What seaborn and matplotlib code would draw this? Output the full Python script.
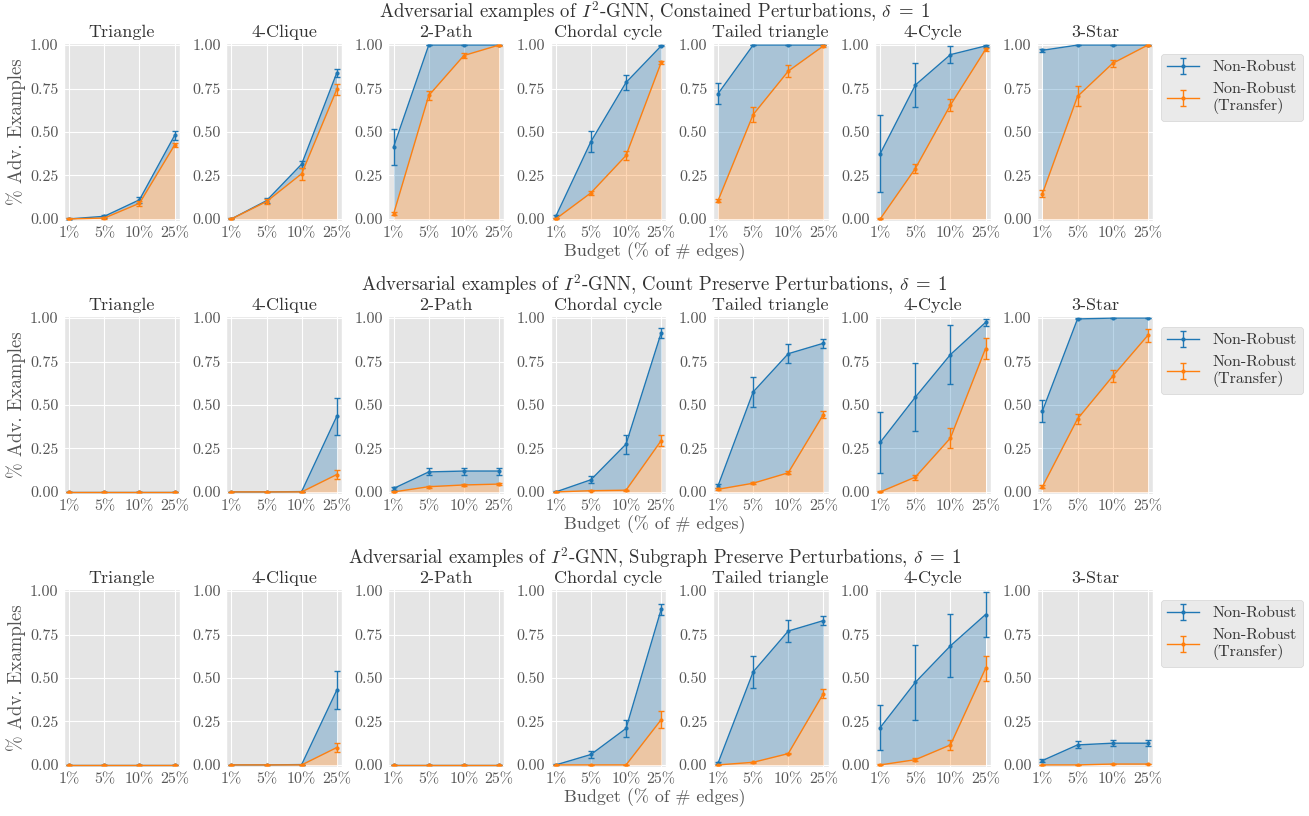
import numpy as np
import pandas as pd
import seaborn as sns
import matplotlib.pyplot as plt
from matplotlib.gridspec import GridSpec
from matplotlib.ticker import FormatStrFormatter

plt.style.use('ggplot')
plt.rcParams['font.family'] = 'serif'
plt.rcParams['font.serif'] = ['cmr10', 'DejaVu Serif']
plt.rcParams['mathtext.fontset'] = 'cm'
plt.rcParams['axes.formatter.use_mathtext'] = True

# datos
budgets = ['1%', '5%', '10%', '25%']
motifs = ['Triangle', '4-Clique', '2-Path', 'Chordal cycle', 'Tailed triangle', '4-Cycle', '3-Star']
row_titles = [
    r'Adversarial examples of $I^2$-GNN, Constained Perturbations, $\delta\;=\;1$',
    r'Adversarial examples of $I^2$-GNN, Count Preserve Perturbations, $\delta\;=\;1$',
    r'Adversarial examples of $I^2$-GNN, Subgraph Preserve Perturbations, $\delta\;=\;1$',
]

# Constained Perturbations
constr_nr = [[0.0, 0.015, 0.11, 0.48], [0.0, 0.105, 0.315, 0.84], [0.415, 1.0, 1.0, 1.0],
             [0.015, 0.445, 0.785, 0.995], [0.72, 1.0, 1.0, 1.0], [0.375, 0.77, 0.945, 0.995],
             [0.97, 1.0, 1.0, 1.0]]
constr_nr_err = [[0.004, 0.008, 0.018, 0.028], [0.003, 0.015, 0.02, 0.022], [0.105, 0.0, 0.0, 0.0],
                 [0.01, 0.06, 0.045, 0.003], [0.06, 0.0, 0.0, 0.0], [0.222, 0.127, 0.048, 0.005],
                 [0.01, 0.0, 0.0, 0.0]]
constr_tr = [[0.0, 0.005, 0.09, 0.425], [0.0, 0.1, 0.26, 0.745], [0.03, 0.71, 0.94, 1.0],
             [0.0, 0.15, 0.365, 0.9], [0.105, 0.6, 0.85, 0.995], [0.0, 0.29, 0.655, 0.975],
             [0.145, 0.705, 0.895, 1.0]]
constr_tr_err = [[0.003, 0.005, 0.015, 0.013], [0.003, 0.015, 0.035, 0.033], [0.01, 0.027, 0.015, 0.003],
                 [0.003, 0.013, 0.028, 0.01], [0.01, 0.043, 0.035, 0.005], [0.003, 0.025, 0.033, 0.01],
                 [0.02, 0.058, 0.02, 0.003]]

# Count Preserve Perturbations
count_nr = [[0.0, 0.0, 0.0, 0.0], [0.0, 0.0, 0.002, 0.435], [0.02, 0.115, 0.12, 0.12],
            [0.0, 0.07, 0.275, 0.915], [0.035, 0.575, 0.795, 0.855], [0.285, 0.545, 0.79, 0.975],
            [0.465, 0.995, 1.0, 1.0]]
count_nr_err = [[0.0, 0.0, 0.0, 0.0], [0.0, 0.0, 0.0, 0.108], [0.01, 0.02, 0.02, 0.02],
                [0.003, 0.02, 0.055, 0.03], [0.01, 0.088, 0.055, 0.025], [0.175, 0.197, 0.172, 0.02],
                [0.065, 0.003, 0.0, 0.0]]
count_tr = [[0.0, 0.0, 0.0, 0.0], [0.0, 0.0, 0.0, 0.1], [0.0, 0.03, 0.04, 0.045],
            [0.0, 0.007, 0.01, 0.295], [0.015, 0.05, 0.11, 0.445], [0.0, 0.085, 0.31, 0.825],
            [0.03, 0.42, 0.665, 0.9]]
count_tr_err = [[0.0, 0.0, 0.0, 0.0], [0.0, 0.0, 0.0, 0.025], [0.003, 0.005, 0.005, 0.005],
                [0.002, 0.003, 0.003, 0.03], [0.005, 0.005, 0.008, 0.02], [0.003, 0.015, 0.06, 0.058],
                [0.01, 0.03, 0.035, 0.038]]

# Subgraph Preserve Perturbations
subg_nr = [[0.0, 0.0, 0.0, 0.0], [0.0, 0.0, 0.002, 0.43], [0.0, 0.0, 0.0, 0.0],
           [0.0, 0.06, 0.21, 0.895], [0.01, 0.535, 0.77, 0.83], [0.215, 0.475, 0.685, 0.865],
           [0.025, 0.115, 0.125, 0.125]]
subg_nr_err = [[0.0, 0.0, 0.0, 0.0], [0.0, 0.0, 0.0, 0.108], [0.0, 0.0, 0.0, 0.0],
               [0.003, 0.02, 0.05, 0.03], [0.005, 0.09, 0.063, 0.025], [0.13, 0.215, 0.182, 0.128],
               [0.008, 0.02, 0.018, 0.018]]
subg_tr = [[0.0, 0.0, 0.0, 0.0], [0.0, 0.0, 0.0, 0.1], [0.0, 0.0, 0.0, 0.0],
           [0.0, 0.0, 0.0, 0.26], [0.0, 0.015, 0.065, 0.41], [0.0, 0.03, 0.115, 0.555],
           [0.0, 0.0, 0.005, 0.005]]
subg_tr_err = [[0.0, 0.0, 0.0, 0.0], [0.0, 0.0, 0.0, 0.025], [0.0, 0.0, 0.0, 0.0],
               [0.0, 0.0, 0.0, 0.05], [0.002, 0.003, 0.005, 0.025], [0.003, 0.008, 0.03, 0.07],
               [0.0, 0.0, 0.002, 0.002]]

rows = [(constr_nr, constr_nr_err, constr_tr, constr_tr_err),
        (count_nr, count_nr_err, count_tr, count_tr_err),
        (subg_nr, subg_nr_err, subg_tr, subg_tr_err)]

c_nr = '#1f77b4'
c_tr = '#ff7f0e'

W, H = 1309, 816
fig = plt.figure(figsize=(W / 100, H / 100), dpi=100)

# posiciones de las filas en pixeles (arriba, abajo)
row_px = [(43, 221), (316, 494), (589, 767)]

for r, (nr, nr_err, tr, tr_err) in enumerate(rows):
    top, bot = row_px[r]
    gs = GridSpec(1, 7, figure=fig, left=64 / W, right=1153 / W,
                  top=1 - top / H, bottom=1 - bot / H, wspace=0.40)
    for c, motif in enumerate(motifs):
        ax = fig.add_subplot(gs[0, c])
        df = pd.DataFrame({'budget': np.arange(len(budgets)),
                           'nr': nr[c], 'nr_err': nr_err[c],
                           'tr': tr[c], 'tr_err': tr_err[c]})
        # areas
        ax.fill_between(df['budget'], df['tr'], df['nr'], color=c_nr, alpha=0.3, lw=0)
        ax.fill_between(df['budget'], 0, df['tr'], color=c_tr, alpha=0.3, lw=0)
        # lineas
        sns.lineplot(data=df, x='budget', y='nr', ax=ax, color=c_nr, lw=1,
                     marker='o', markersize=3, markeredgewidth=0)
        eb_nr = ax.errorbar(df['budget'], df['nr'], yerr=df['nr_err'], fmt='none',
                            ecolor=c_nr, elinewidth=1, capsize=2)
        sns.lineplot(data=df, x='budget', y='tr', ax=ax, color=c_tr, lw=1,
                     marker='o', markersize=3, markeredgewidth=0)
        eb_tr = ax.errorbar(df['budget'], df['tr'], yerr=df['tr_err'], fmt='none',
                            ecolor=c_tr, elinewidth=1, capsize=2)
        lines = [l for l in ax.get_lines() if l.get_marker() == 'o']

        ax.set_xlim(-0.15, 3.15)
        ax.set_ylim(-0.012, 1.012)
        ax.set_xticks(range(len(budgets)))
        ax.set_xticklabels(budgets)
        ax.set_yticks([0, 0.25, 0.5, 0.75, 1.0])
        ax.yaxis.set_major_formatter(FormatStrFormatter('%.2f'))
        ax.tick_params(labelsize=11.5, length=0, pad=4)
        ax.set_xlabel('')
        ax.set_ylabel('')
        ax.set_title(motif, fontsize=13, pad=4, color='#333333')
        if c == 0:
            ax.set_ylabel('% Adv. Examples', fontsize=13.5, color='#555555', labelpad=3)
        if c == 6:
            ax.legend([(lines[0], eb_nr), (lines[1], eb_tr)],
                      ['Non-Robust', 'Non-Robust\n(Transfer)'],
                      loc='upper left', bbox_to_anchor=(1.07, 0.94), borderaxespad=0,
                      fontsize=11.5, facecolor='#e5e5e5', edgecolor='#cccccc',
                      labelcolor='#333333')
    fig.text(0.5, 1 - (top - 31) / H, row_titles[r], ha='center', va='center',
             fontsize=13.5, color='#333333')
    fig.text(0.5, 1 - (bot + 31) / H, 'Budget (% of # edges)', ha='center', va='center',
             fontsize=13, color='#555555')

fig.savefig('out.png', dpi=100)
